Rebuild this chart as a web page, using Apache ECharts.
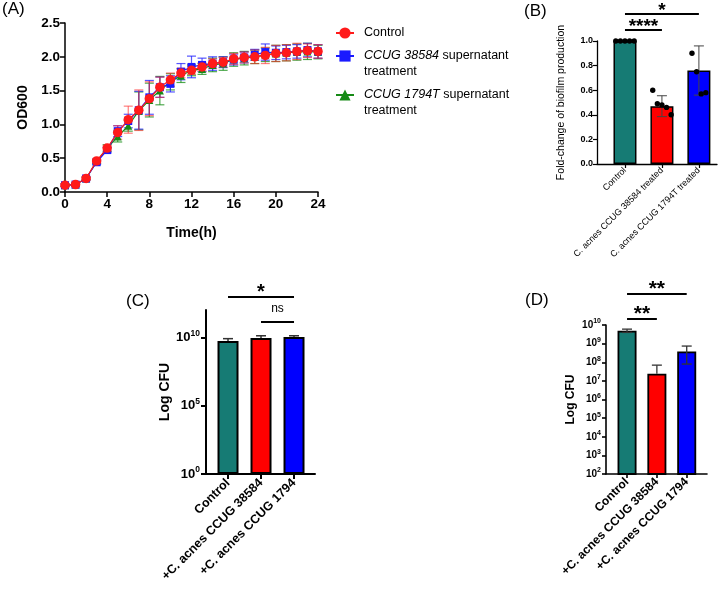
<!DOCTYPE html>
<html>
<head>
<meta charset="utf-8">
<script src="https://cdn.jsdelivr.net/npm/echarts@6/dist/echarts.min.js"></script>
<style>
  html, body { margin: 0; background: #fff; }
  #main { width: 725px; height: 591px; }
</style>
</head>
<body>
<div id="main"></div>
<script>
// (A) growth curve, OD600 per hour
const hours = [0, 1, 2, 3, 4, 5, 6, 7, 8, 9, 10, 11, 12, 13, 14, 15, 16, 17, 18, 19, 20, 21, 22, 23, 24];
const odControl = [0.10, 0.11, 0.20, 0.46, 0.65, 0.88, 1.07, 1.21, 1.38, 1.55, 1.66, 1.76, 1.80, 1.85, 1.90, 1.92, 1.97, 1.99, 2.00, 2.02, 2.05, 2.06, 2.08, 2.09, 2.08];
const odControlSd = [0.02, 0.02, 0.02, 0.03, 0.04, 0.10, 0.20, 0.30, 0.25, 0.15, 0.10, 0.07, 0.06, 0.06, 0.07, 0.07, 0.08, 0.08, 0.10, 0.12, 0.12, 0.12, 0.12, 0.10, 0.10];
const od38584 = [0.10, 0.11, 0.20, 0.44, 0.62, 0.90, 1.05, 1.21, 1.40, 1.55, 1.60, 1.78, 1.85, 1.88, 1.90, 1.92, 1.96, 1.99, 2.03, 2.07, 2.06, 2.07, 2.08, 2.10, 2.08];
const od38584Sd = [0.02, 0.02, 0.02, 0.03, 0.04, 0.08, 0.10, 0.28, 0.25, 0.15, 0.12, 0.12, 0.16, 0.10, 0.10, 0.08, 0.08, 0.08, 0.08, 0.12, 0.10, 0.10, 0.10, 0.10, 0.10];
const od1794 = [0.10, 0.11, 0.20, 0.45, 0.65, 0.82, 0.98, 1.20, 1.36, 1.50, 1.63, 1.72, 1.80, 1.82, 1.88, 1.90, 1.96, 1.98, 2.00, 2.03, 2.05, 2.06, 2.07, 2.08, 2.07];
const od1794Sd = [0.02, 0.02, 0.02, 0.03, 0.05, 0.08, 0.08, 0.28, 0.25, 0.21, 0.12, 0.10, 0.08, 0.08, 0.10, 0.10, 0.10, 0.10, 0.10, 0.10, 0.12, 0.12, 0.12, 0.12, 0.10];
const nameControl = 'Control';
const name38584 = 'CCUG 38584 supernatant treatment';
const name1794 = 'CCUG 1794T supernatant treatment';
const legendText = {
  [nameControl]: 'Control',
  [name38584]: '\n{i|CCUG 38584} supernatant\ntreatment',
  [name1794]: '\n{i|CCUG 1794T} supernatant\ntreatment'
};

// (B) biofilm fold change
const groupsB = ['Control', 'C. acnes CCUG 38584 treated', 'C. acnes CCUG 1794T treated'];
const biofilmMean = [1.0, 0.47, 0.76];
const biofilmSd = [0, 0.085, 0.2];
const biofilmPoints = [[1, 1, 1, 1, 1], [0.60, 0.49, 0.48, 0.46, 0.40], [0.90, 0.75, 0.57, 0.58]];
const sigPairsB = [[0, 1], [0, 2]];
const sigTextB = ['****', '*'];

// (C) and (D) log CFU
const groupsCD = ['Control', '+C. acnes CCUG 38584', '+C. acnes CCUG 1794'];
const cfuC = [5.4e9, 8.9e9, 1.07e10];
const cfuCHigh = [8.0e9, 1.3e10, 1.3e10];
const sigPairsC = [[1, 2], [0, 2]];
const sigTextC = ['ns', '*'];
const cfuD = [4.9e9, 2.4e7, 3.8e8];
const cfuDLow = [4.0e9, 2.4e7, 8.0e7];
const cfuDHigh = [6.0e9, 7.0e7, 7.4e8];
const sigPairsD = [[0, 1], [0, 2]];
const sigTextD = ['**', '**'];

const groupColors = ['#167b74', '#ff0000', '#0000ff'];
const FONT = 'Liberation Sans';

// vertical error bar with caps; lower cap only when it sits under the mean
function errRender(capW, lw, color) {
  return function (params, api) {
    const x = api.value(0);
    const lo = api.coord([x, api.value(1)]);
    const hi = api.coord([x, api.value(2)]);
    const mid = api.coord([x, api.value(3)]);
    if (Math.abs(lo[1] - hi[1]) < 0.5) return null;
    const h = capW / 2;
    const st = { stroke: color, lineWidth: lw };
    const kids = [
      { type: 'line', shape: { x1: lo[0], y1: lo[1], x2: hi[0], y2: hi[1] }, style: st },
      { type: 'line', shape: { x1: hi[0] - h, y1: hi[1], x2: hi[0] + h, y2: hi[1] }, style: st }
    ];
    if (lo[1] - mid[1] > 0.5) {
      kids.push({ type: 'line', shape: { x1: lo[0] - h, y1: lo[1], x2: lo[0] + h, y2: lo[1] }, style: st });
    }
    return { type: 'group', children: kids };
  };
}

// significance bracket: line above axis top + label
function sigRender(texts, offsets, fonts, lifts) {
  return function (params, api) {
    const i = params.dataIndex;
    const a = api.coord([api.value(0), api.value(2)]);
    const b = api.coord([api.value(1), api.value(2)]);
    const y = a[1] - offsets[i];
    return {
      type: 'group',
      children: [
        { type: 'line', shape: { x1: a[0], y1: y, x2: b[0], y2: y }, style: { stroke: '#000', lineWidth: 2 } },
        {
          type: 'text', x: (a[0] + b[0]) / 2, y: y - lifts[i],
          style: { text: texts[i], align: 'center', verticalAlign: 'middle', font: fonts[i], fill: '#000' }
        }
      ]
    };
  };
}

function errData(means, lows, highs) {
  return means.map((m, i) => [i, lows[i], highs[i], m]);
}

const supLabel = (size, sup) => ({
  formatter: (v) => '{b|10}{s|' + Math.round(Math.log10(v)) + '}',
  rich: {
    b: { fontFamily: FONT, fontWeight: 'bold', fontSize: size, color: '#000', lineHeight: size + 4 },
    s: { fontFamily: FONT, fontWeight: 'bold', fontSize: sup, color: '#000', verticalAlign: 'top', lineHeight: sup + 1 }
  }
});

const axisLineStyle = (w) => ({ show: true, onZero: false, lineStyle: { color: '#000', width: w } });
const tickStyle = (len, w) => ({ show: true, length: len, lineStyle: { color: '#000', width: w } });

const chart = echarts.init(document.getElementById('main'));

const option = {
  backgroundColor: '#fff',
  animation: false,
  title: [
    { text: '(A)', left: 2, top: 1, padding: 0, textStyle: { fontFamily: FONT, fontSize: 17, fontWeight: 'normal', color: '#000' } },
    { text: '(B)', left: 524, top: 3, padding: 0, textStyle: { fontFamily: FONT, fontSize: 17, fontWeight: 'normal', color: '#000' } },
    { text: '(C)', left: 126, top: 293, padding: 0, textStyle: { fontFamily: FONT, fontSize: 17, fontWeight: 'normal', color: '#000' } },
    { text: '(D)', left: 525, top: 292, padding: 0, textStyle: { fontFamily: FONT, fontSize: 17, fontWeight: 'normal', color: '#000' } }
  ],
  legend: {
    orient: 'vertical', left: 335, top: 25, padding: 0, itemGap: -9,
    itemWidth: 18, itemHeight: 14, selectedMode: false,
    data: [nameControl, name38584, name1794],
    formatter: (n) => legendText[n],
    textStyle: {
      fontFamily: FONT, fontSize: 12.5, color: '#000', lineHeight: 16, padding: [0, 0, 0, 5],
      rich: { i: { fontFamily: FONT, fontStyle: 'italic', fontSize: 12.5, lineHeight: 16, color: '#000' } }
    }
  },
  grid: [
    { left: 65, top: 23, width: 253, height: 169 },
    { left: 597, top: 41, width: 120, height: 123 },
    { left: 206, top: 310, width: 109, height: 164 },
    { left: 606, top: 325, width: 101, height: 149 }
  ],
  xAxis: [
    {
      gridIndex: 0, type: 'value', min: 0, max: 24, interval: 4,
      axisLine: axisLineStyle(1.5), axisTick: tickStyle(5, 1.5), splitLine: { show: false },
      axisLabel: { fontFamily: FONT, fontWeight: 'bold', fontSize: 13.5, color: '#000', margin: 5 },
      name: 'Time(h)', nameLocation: 'middle', nameGap: 34,
      nameTextStyle: { fontFamily: FONT, fontWeight: 'bold', fontSize: 14, color: '#000' }
    },
    {
      gridIndex: 1, type: 'value', min: -0.757, max: 2.49,
      axisLine: axisLineStyle(1.3), splitLine: { show: false },
      axisTick: Object.assign(tickStyle(4, 1.2), { customValues: [0, 1, 2] }),
      axisLabel: {
        customValues: [0, 1, 2], formatter: (v) => groupsB[Math.round(v)], rotate: 45, margin: 5,
        fontFamily: FONT, fontSize: 9, color: '#000'
      }
    },
    {
      gridIndex: 2, type: 'value', min: -0.667, max: 2.636,
      axisLine: axisLineStyle(2), splitLine: { show: false },
      axisTick: Object.assign(tickStyle(5, 2), { customValues: [0, 1, 2] }),
      axisLabel: {
        customValues: [0, 1, 2], formatter: (v) => groupsCD[Math.round(v)], rotate: 45, margin: 7,
        fontFamily: FONT, fontWeight: 'bold', fontSize: 12.5, color: '#000'
      }
    },
    {
      gridIndex: 3, type: 'value', min: -0.705, max: 2.68,
      axisLine: axisLineStyle(1.6), splitLine: { show: false },
      axisTick: Object.assign(tickStyle(4, 1.6), { customValues: [0, 1, 2] }),
      axisLabel: {
        customValues: [0, 1, 2], formatter: (v) => groupsCD[Math.round(v)], rotate: 45, margin: 6,
        fontFamily: FONT, fontWeight: 'bold', fontSize: 12, color: '#000'
      }
    }
  ],
  yAxis: [
    {
      gridIndex: 0, type: 'value', min: 0, max: 2.5, interval: 0.5,
      axisLine: axisLineStyle(1.5), axisTick: tickStyle(5, 1.5), splitLine: { show: false },
      axisLabel: { formatter: (v) => v.toFixed(1), fontFamily: FONT, fontWeight: 'bold', fontSize: 13.5, color: '#000', margin: 5 },
      name: 'OD600', nameLocation: 'middle', nameGap: 35,
      nameTextStyle: { fontFamily: FONT, fontWeight: 'bold', fontSize: 14, color: '#000' }
    },
    {
      gridIndex: 1, type: 'value', min: 0, max: 1, interval: 0.2,
      axisLine: axisLineStyle(1.3), axisTick: tickStyle(4, 1.2), splitLine: { show: false },
      axisLabel: { formatter: (v) => v.toFixed(1), fontFamily: FONT, fontWeight: 'bold', fontSize: 9, color: '#000', margin: 4 },
      name: 'Fold-change of biofilm production', nameLocation: 'middle', nameGap: 30,
      nameTextStyle: { fontFamily: FONT, fontSize: 10.5, color: '#000' }
    },
    {
      gridIndex: 2, type: 'log', logBase: 10, min: 1, max: 1e12,
      axisLine: axisLineStyle(2), splitLine: { show: false },
      axisTick: Object.assign(tickStyle(5, 2), { customValues: [1, 1e5, 1e10] }),
      axisLabel: Object.assign({ customValues: [1, 1e5, 1e10], margin: 6 }, supLabel(13, 8.5)),
      name: 'Log CFU', nameLocation: 'middle', nameGap: 33,
      nameTextStyle: { fontFamily: FONT, fontWeight: 'bold', fontSize: 14, color: '#000' }
    },
    {
      gridIndex: 3, type: 'log', logBase: 10, min: 1e2, max: 1e10,
      axisLine: axisLineStyle(1.6), splitLine: { show: false },
      axisTick: Object.assign(tickStyle(4, 1.6), { customValues: [1e2, 1e3, 1e4, 1e5, 1e6, 1e7, 1e8, 1e9, 1e10] }),
      axisLabel: Object.assign({ customValues: [1e2, 1e3, 1e4, 1e5, 1e6, 1e7, 1e8, 1e9, 1e10], margin: 5 }, supLabel(10, 7)),
      name: 'Log CFU', nameLocation: 'middle', nameGap: 29,
      nameTextStyle: { fontFamily: FONT, fontWeight: 'bold', fontSize: 12, color: '#000' }
    }
  ],
  series: [
    // (A) error bars
    { type: 'custom', xAxisIndex: 0, yAxisIndex: 0, z: 1, silent: true,
      renderItem: errRender(9, 1.2, 'rgba(20,140,20,0.75)'), encode: { x: 0, y: [1, 2] },
      data: hours.map((h, i) => [h, od1794[i] - od1794Sd[i], od1794[i] + od1794Sd[i], od1794[i]]) },
    { type: 'custom', xAxisIndex: 0, yAxisIndex: 0, z: 1, silent: true,
      renderItem: errRender(9, 1.2, 'rgba(30,30,255,0.75)'), encode: { x: 0, y: [1, 2] },
      data: hours.map((h, i) => [h, od38584[i] - od38584Sd[i], od38584[i] + od38584Sd[i], od38584[i]]) },
    { type: 'custom', xAxisIndex: 0, yAxisIndex: 0, z: 1, silent: true,
      renderItem: errRender(9, 1.2, 'rgba(255,40,40,0.6)'), encode: { x: 0, y: [1, 2] },
      data: hours.map((h, i) => [h, odControl[i] - odControlSd[i], odControl[i] + odControlSd[i], odControl[i]]) },
    // (A) curves
    { name: name1794, type: 'line', xAxisIndex: 0, yAxisIndex: 0, z: 3,
      symbol: 'triangle', symbolSize: 8, color: '#168a16', lineStyle: { width: 1.2 },
      data: hours.map((h, i) => [h, od1794[i]]) },
    { name: name38584, type: 'line', xAxisIndex: 0, yAxisIndex: 0, z: 4,
      symbol: 'rect', symbolSize: 8, color: '#1a1aff', lineStyle: { width: 1.2 },
      data: hours.map((h, i) => [h, od38584[i]]) },
    { name: nameControl, type: 'line', xAxisIndex: 0, yAxisIndex: 0, z: 5,
      symbol: 'circle', symbolSize: 9.5, color: '#ff1a1a', lineStyle: { width: 1.2 },
      data: hours.map((h, i) => [h, odControl[i]]) },

    // (B)
    { type: 'bar', xAxisIndex: 1, yAxisIndex: 1, barWidth: 23,
      itemStyle: { borderColor: '#000', borderWidth: 1.5 },
      data: biofilmMean.map((m, i) => ({ value: [i, m], itemStyle: { color: groupColors[i] } })) },
    { type: 'custom', xAxisIndex: 1, yAxisIndex: 1, z: 3, silent: true,
      renderItem: errRender(10, 1, '#444'), encode: { x: 0, y: [1, 2] },
      data: errData(biofilmMean, biofilmMean.map((m, i) => m - biofilmSd[i]), biofilmMean.map((m, i) => m + biofilmSd[i])) },
    { type: 'custom', xAxisIndex: 1, yAxisIndex: 1, z: 4, silent: true,
      renderItem: function (params, api) {
        const p = api.coord([api.value(0), api.value(1)]);
        const k = api.value(2), n = api.value(3);
        return { type: 'circle', shape: { cx: p[0] + (k - (n - 1) / 2) * 4.6, cy: p[1], r: 2.7 }, style: { fill: '#000' } };
      },
      encode: { x: 0, y: 1 },
      data: biofilmPoints.flatMap((pts, g) => pts.map((v, k) => [g, v, k, pts.length])) },
    { type: 'custom', xAxisIndex: 1, yAxisIndex: 1, z: 5, silent: true,
      renderItem: sigRender(sigTextB, [11, 27], ['bold 19px "Liberation Sans"', 'bold 19px "Liberation Sans"'], [3, 3]),
      encode: { x: [0, 1], y: 2 },
      data: sigPairsB.map((p) => [p[0], p[1], 1]) },

    // (C)
    { type: 'bar', xAxisIndex: 2, yAxisIndex: 2, barWidth: 21,
      itemStyle: { borderColor: '#000', borderWidth: 2 },
      data: cfuC.map((m, i) => ({ value: [i, m], itemStyle: { color: groupColors[i] } })) },
    { type: 'custom', xAxisIndex: 2, yAxisIndex: 2, z: 3, silent: true,
      renderItem: errRender(10, 1.5, '#333'), encode: { x: 0, y: [1, 2] },
      data: errData(cfuC, cfuC, cfuCHigh) },
    { type: 'custom', xAxisIndex: 2, yAxisIndex: 2, z: 5, silent: true,
      renderItem: sigRender(sigTextC, [-12, 13], ['12px "Liberation Sans"', 'bold 20px "Liberation Sans"'], [13, 5]),
      encode: { x: [0, 1], y: 2 },
      data: sigPairsC.map((p) => [p[0], p[1], 1e12]) },

    // (D)
    { type: 'bar', xAxisIndex: 3, yAxisIndex: 3, barWidth: 19,
      itemStyle: { borderColor: '#000', borderWidth: 1.8 },
      data: cfuD.map((m, i) => ({ value: [i, m], itemStyle: { color: groupColors[i] } })) },
    { type: 'custom', xAxisIndex: 3, yAxisIndex: 3, z: 3, silent: true,
      renderItem: errRender(10, 1.3, '#333'), encode: { x: 0, y: [1, 2] },
      data: errData(cfuD, cfuDLow, cfuDHigh) },
    { type: 'custom', xAxisIndex: 3, yAxisIndex: 3, z: 5, silent: true,
      renderItem: sigRender(sigTextD, [6, 31], ['bold 21px "Liberation Sans"', 'bold 21px "Liberation Sans"'], [5, 5]),
      encode: { x: [0, 1], y: 2 },
      data: sigPairsD.map((p) => [p[0], p[1], 1e10]) }
  ]
};

chart.setOption(option);
</script>
</body>
</html>
